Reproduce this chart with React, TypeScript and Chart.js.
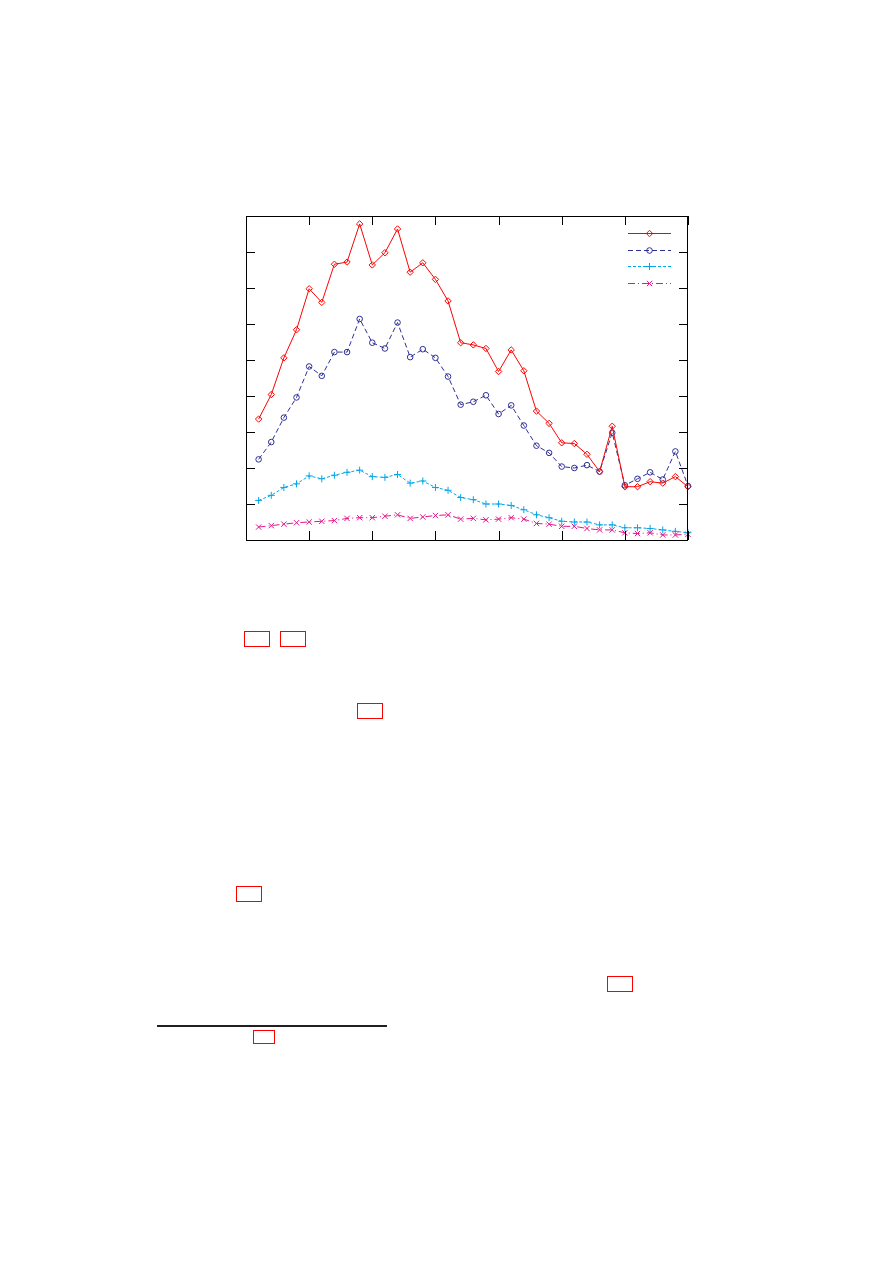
import React, { useEffect, useRef } from "react";
import { Chart, registerables } from "chart.js";
import { drawPoint } from "chart.js/helpers";

Chart.register(...registerables);

// x positions (sample index)
const xValues: number[] = Array.from({ length: 35 }, (_, i) => i + 1);

// Series values (y scale 0..45)
const seriesRed: number[] = [
  16.8, 20.2, 25.3, 29.2, 34.9, 33.0, 38.3, 38.6, 43.9, 38.2,
  39.9, 43.2, 37.2, 38.5, 36.2, 33.2, 27.4, 27.1, 26.6, 23.4,
  26.4, 23.5, 17.9, 16.2, 13.5, 13.4, 11.9, 9.5, 15.8, 7.4,
  7.4, 8.1, 7.9, 8.8, 7.4,
];
const seriesBlue: number[] = [
  11.2, 13.6, 17.0, 19.8, 24.1, 22.8, 26.1, 26.1, 30.7, 27.4,
  26.6, 30.2, 25.4, 26.5, 25.3, 22.7, 18.8, 19.2, 20.1, 17.5,
  18.7, 15.9, 13.1, 12.1, 10.2, 10.0, 10.4, 9.5, 14.9, 7.6,
  8.5, 9.4, 8.4, 12.3, 7.5,
];
const seriesCyan: number[] = [
  5.5, 6.2, 7.3, 7.8, 8.9, 8.5, 9.0, 9.4, 9.7, 8.8,
  8.7, 9.1, 7.9, 8.2, 7.3, 6.9, 5.9, 5.6, 5.0, 5.0,
  4.8, 4.2, 3.5, 3.1, 2.6, 2.5, 2.5, 2.1, 2.1, 1.7,
  1.7, 1.6, 1.4, 1.2, 1.0,
];
const seriesMagenta: number[] = [
  1.8, 2.0, 2.2, 2.4, 2.5, 2.6, 2.7, 3.0, 3.1, 3.1,
  3.3, 3.5, 3.0, 3.2, 3.4, 3.5, 2.9, 3.0, 2.8, 2.9,
  3.1, 2.9, 2.3, 2.2, 1.9, 1.9, 1.6, 1.4, 1.4, 1.0,
  0.9, 1.0, 0.7, 0.7, 0.8,
];

const xTicks: number[] = [0, 5, 10, 15, 20, 25, 30, 35];
const yTicks: number[] = [0, 5, 10, 15, 20, 25, 30, 35, 40, 45];
const legendLabels: string[] = ["", "", "", ""];

const RED = "#ff0000";
const BLUE = "#2e2e96";
const CYAN = "#00a6e8";
const MAGENTA = "#e4168a";

const framePlugin = {
  id: "gnuFrame",
  afterDraw(chart: any) {
    const ctx = chart.ctx;
    const { left, right, top, bottom } = chart.chartArea;
    const xs = chart.scales.x;
    const ys = chart.scales.y;
    const tl = 9;
    ctx.save();
    ctx.strokeStyle = "#000";
    ctx.lineWidth = 1;
    ctx.setLineDash([]);
    ctx.beginPath();
    xTicks.forEach((v) => {
      const px = Math.round(xs.getPixelForValue(v)) + 0.5;
      ctx.moveTo(px, bottom);
      ctx.lineTo(px, bottom - tl);
      ctx.moveTo(px, top);
      ctx.lineTo(px, top + tl);
    });
    yTicks.forEach((v) => {
      const py = Math.round(ys.getPixelForValue(v)) + 0.5;
      ctx.moveTo(left, py);
      ctx.lineTo(left + tl, py);
      ctx.moveTo(right, py);
      ctx.lineTo(right - tl, py);
    });
    ctx.stroke();
    ctx.strokeRect(left + 0.5, top + 0.5, right - left - 1, bottom - top);
    // legend
    const x0 = right - 60;
    const x1 = right - 17;
    chart.data.datasets.forEach((ds: any, k: number) => {
      const y = Math.round(top + 17 + k * 16.6) + 0.5;
      ctx.strokeStyle = ds.borderColor;
      ctx.fillStyle = "rgba(0,0,0,0)";
      ctx.lineWidth = 1;
      ctx.setLineDash(ds.borderDash || []);
      ctx.beginPath();
      ctx.moveTo(x0, y);
      ctx.lineTo(x1, y);
      ctx.stroke();
      ctx.setLineDash([]);
      drawPoint(
        ctx,
        {
          pointStyle: ds.pointStyle,
          radius: ds.pointRadius,
          borderWidth: 1,
          rotation: 0,
        },
        (x0 + x1) / 2,
        y
      );
      if (legendLabels[k]) {
        ctx.fillStyle = "#000";
        ctx.fillText(legendLabels[k], x0 - 6, y);
      }
    });
    ctx.restore();
  },
};

function mk(label: string, data: number[], color: string, style: string, r: number, dash: number[]) {
  return {
    label,
    data: data.map((v, i) => ({ x: xValues[i], y: v })),
    borderColor: color,
    backgroundColor: "rgba(0,0,0,0)",
    pointBorderColor: color,
    pointBackgroundColor: "rgba(0,0,0,0)",
    borderWidth: 1,
    pointBorderWidth: 1,
    pointStyle: style,
    pointRadius: r,
    borderDash: dash,
    tension: 0,
    clip: false,
  };
}

function ChartBox() {
  const ref = useRef<HTMLCanvasElement | null>(null);
  useEffect(() => {
    if (!ref.current) return;
    const chart = new Chart(ref.current, {
      type: "line",
      data: {
        datasets: [
          mk("a", seriesRed, RED, "rectRot", 3.2, []),
          mk("b", seriesBlue, BLUE, "circle", 2.8, [5, 3]),
          mk("c", seriesCyan, CYAN, "cross", 3.5, [3, 2]),
          mk("d", seriesMagenta, MAGENTA, "crossRot", 3.8, [7, 3, 1, 3]),
        ] as any,
      },
      options: {
        animation: false,
        responsive: false,
        devicePixelRatio: 1,
        layout: { padding: { left: 246, top: 216, right: 205, bottom: 60 } },
        plugins: { legend: { display: false }, tooltip: { enabled: false }, title: { display: false } },
        scales: {
          x: { type: "linear", min: 0, max: 35, display: false },
          y: { type: "linear", min: 0, max: 45, display: false },
        },
      },
      plugins: [framePlugin],
    });
    return () => chart.destroy();
  }, []);
  return (
    <canvas
      ref={ref}
      width={893}
      height={600}
      style={{ position: "absolute", left: 0, top: 0, width: 893, height: 600, display: "block" }}
    />
  );
}

const boxStyle = (l: number, t: number, w: number, h: number): React.CSSProperties => ({
  position: "absolute",
  left: l,
  top: t,
  width: w,
  height: h,
  boxSizing: "border-box",
  border: "1.5px solid #ff0000",
});

export default function App() {
  return (
    <div style={{ position: "absolute", left: 0, top: 0, width: 893, height: 1263, background: "#fff", overflow: "hidden" }}>
      <ChartBox />
      <div style={boxStyle(244, 631, 26, 16)} />
      <div style={boxStyle(280, 631, 26, 16)} />
      <div style={boxStyle(357, 703, 26, 16)} />
      <div style={boxStyle(236, 886, 26, 16)} />
      <div style={boxStyle(607, 976, 26, 16)} />
      <div style={{ position: "absolute", left: 157, top: 1025, width: 230, height: 2, background: "#231f20" }} />
      <div style={boxStyle(253, 1030, 22, 14)} />
    </div>
  );
}
